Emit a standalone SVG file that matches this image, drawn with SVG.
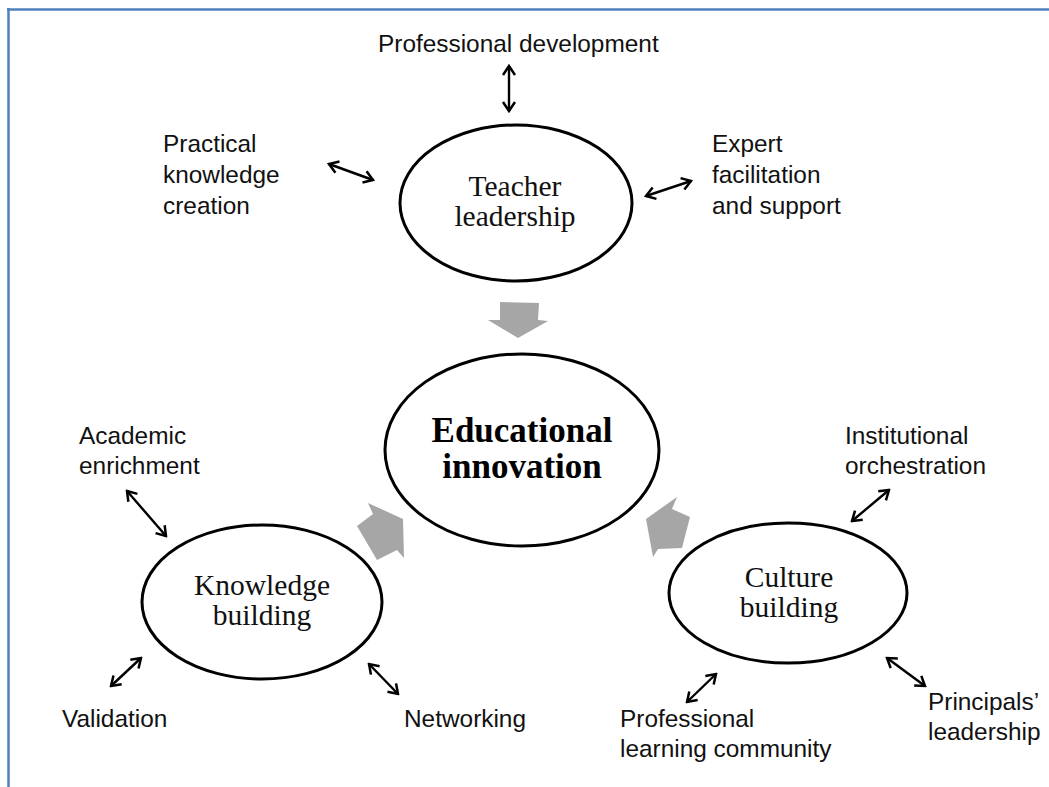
<svg xmlns="http://www.w3.org/2000/svg" width="1049" height="787" viewBox="0 0 1049 787">
<style>
.lbl{font-family:"Liberation Sans",Arial,sans-serif;font-size:24.4px;fill:#111}
.nt{font-family:"Liberation Serif","Times New Roman",serif;font-size:29.5px;fill:#111;text-anchor:middle}
.bt{font-family:"Liberation Serif","Times New Roman",serif;font-size:35px;font-weight:bold;fill:#000;text-anchor:middle}
.el{fill:#fff;stroke:#000;stroke-width:3}
.dl{stroke:#000;stroke-width:2.4;fill:none;marker-start:url(#ah);marker-end:url(#ah)}
.blk{fill:#a6a6a6}
</style>
<defs>
<marker id="ah" markerUnits="userSpaceOnUse" viewBox="-11 -8 13 16" markerWidth="13" markerHeight="16" refX="0" refY="0" orient="auto-start-reverse">
<path d="M-9,-6 L0,0 L-9,6" fill="none" stroke="#000" stroke-width="2.5" stroke-linejoin="miter"/>
</marker>
</defs>
<rect width="1049" height="787" fill="#fff"/>
<g id="frame" stroke="#4f81bd" stroke-width="2.5" fill="none">
<line x1="7" y1="9.5" x2="1049" y2="9.5"/>
<line x1="8.5" y1="8" x2="8.5" y2="787"/>
</g>
<g id="connectors">
<line class="dl" x1="509" y1="66" x2="509" y2="111"/>
<line class="dl" x1="329" y1="164" x2="373" y2="180"/>
<line class="dl" x1="646" y1="196" x2="691" y2="181"/>
<line class="dl" x1="127" y1="491" x2="166" y2="536"/>
<line class="dl" x1="111" y1="686" x2="141" y2="658"/>
<line class="dl" x1="369" y1="664" x2="398" y2="694"/>
<line class="dl" x1="889" y1="490" x2="852" y2="521"/>
<line class="dl" x1="716" y1="674" x2="687" y2="702"/>
<line class="dl" x1="887" y1="658" x2="925" y2="686"/>
<polygon class="blk" points="500,302 539,303 538,320 548,321 518,338 488,320 500,320"/>
<polygon class="blk" points="368,503 403,519 404,558 397,550 377,560 357,526 373,514"/>
<polygon class="blk" points="677,497 646,519 653,557 658,549 682,548 690,517 672,509"/>
</g>
<g id="teacher-leadership">
<ellipse class="el" cx="516" cy="203" rx="116" ry="78"/>
<text class="nt" x="515" y="196">Teacher</text>
<text class="nt" x="515" y="226">leadership</text>
</g>
<g id="educational-innovation">
<ellipse class="el" cx="522" cy="450" rx="137" ry="96" stroke-width="3.6"/>
<text class="bt" x="522" y="442">Educational</text>
<text class="bt" x="522" y="478">innovation</text>
</g>
<g id="knowledge-building">
<ellipse class="el" cx="262" cy="602" rx="120" ry="77"/>
<text class="nt" x="262" y="595">Knowledge</text>
<text class="nt" x="262" y="625">building</text>
</g>
<g id="culture-building">
<ellipse class="el" cx="788" cy="593" rx="119" ry="70"/>
<text class="nt" x="789" y="587">Culture</text>
<text class="nt" x="789" y="617">building</text>
</g>
<g id="professional-development"><text class="lbl" x="378" y="52">Professional development</text></g>
<g id="practical-knowledge-creation"><text class="lbl" x="163" y="152">Practical</text><text class="lbl" x="163" y="183">knowledge</text><text class="lbl" x="163" y="214">creation</text></g>
<g id="expert-facilitation"><text class="lbl" x="712" y="152">Expert</text><text class="lbl" x="712" y="183">facilitation</text><text class="lbl" x="712" y="214">and support</text></g>
<g id="academic-enrichment"><text class="lbl" x="79" y="444">Academic</text><text class="lbl" x="79" y="474">enrichment</text></g>
<g id="institutional-orchestration"><text class="lbl" x="845" y="444">Institutional</text><text class="lbl" x="845" y="474">orchestration</text></g>
<g id="validation"><text class="lbl" x="62" y="727">Validation</text></g>
<g id="networking"><text class="lbl" x="404" y="727">Networking</text></g>
<g id="professional-learning-community"><text class="lbl" x="620" y="727">Professional</text><text class="lbl" x="620" y="757">learning community</text></g>
<g id="principals-leadership"><text class="lbl" x="928" y="710">Principals’</text><text class="lbl" x="928" y="740">leadership</text></g>
</svg>
